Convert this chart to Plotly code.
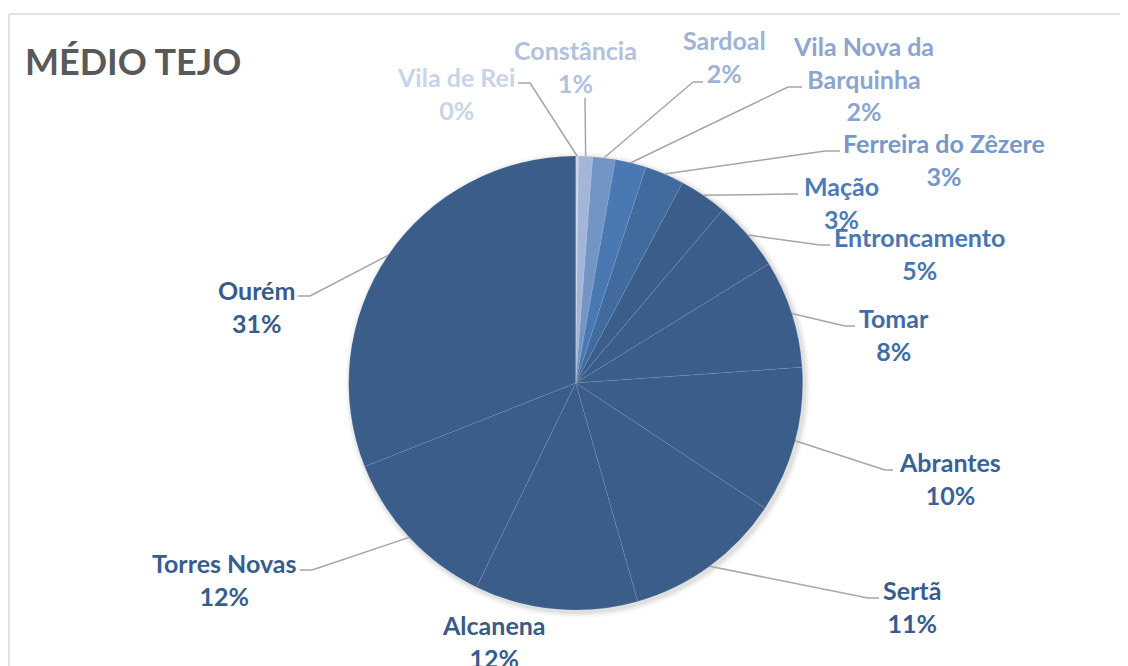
import math
import plotly.graph_objects as go

# data: share per municipality, clockwise from 12 o'clock
municipios = ["Vila de Rei", "Constância", "Sardoal", "Vila Nova da Barquinha",
              "Ferreira do Zêzere", "Mação", "Entroncamento", "Tomar", "Abrantes",
              "Sertã", "Alcanena", "Torres Novas", "Ourém"]
valores = [0.2, 1.0, 1.6, 2.2, 2.8, 3.4, 5.0, 7.7, 10.4, 11.3, 11.6, 11.8, 31.0]

slice_colors = ["#c9d5e9", "#a3b6d8", "#7395c6", "#4978b3", "#416b9f", "#3a5d89",
                "#3a5d89", "#3a5d89", "#3a5d89", "#3a5d89", "#3a5d89", "#3a5d89", "#3a5d89"]
label_colors = ["#c8d4e8", "#b0c2de", "#9db3d8", "#8ba5d0", "#7597c9", "#4a7bbb",
                "#4676b3", "#3f6ca8", "#3a6299", "#375d90", "#375b8a", "#375d90", "#375b8a"]

W, H = 1128, 666
OFF = 8  # page body margin shifts the figure by 8px
CX, CY, R = 575.7, 383, 227

# label placement (screen pixels): text centre, elbow and end of leader line
label_layout = {
    "Vila de Rei": dict(text=(456, 93.5), elbow=(530, 83), end=(518, 83)),
    "Constância": dict(text=(575, 66.5), elbow=(585, 98), end=(585, 98)),
    "Sardoal": dict(text=(724, 56), elbow=(693, 82), end=(703, 82)),
    "Vila Nova da Barquinha": dict(text=(863, 78.5), elbow=(788, 87), end=(802, 87)),
    "Ferreira do Zêzere": dict(text=(944, 160), elbow=(825, 151), end=(840, 151)),
    "Mação": dict(text=(841, 202.5), elbow=(790, 194), end=(798, 194)),
    "Entroncamento": dict(text=(920, 253.5), elbow=(820, 245), end=(830, 245)),
    "Tomar": dict(text=(894, 334), elbow=(845, 326), end=(855, 326)),
    "Abrantes": dict(text=(950, 478), elbow=(885, 470), end=(893, 470)),
    "Sertã": dict(text=(912, 606), elbow=(868, 598), end=(879, 598)),
    "Alcanena": dict(text=(494, 641), elbow=None, end=None),
    "Torres Novas": dict(text=(224, 579), elbow=(312, 570), end=(300, 570)),
    "Ourém": dict(text=(256, 306), elbow=(310, 296), end=(298, 296)),
}
wrapped = {"Vila Nova da Barquinha": "Vila Nova da<br>Barquinha"}


def px(x):
    return (x - OFF) / W


def py(y):
    return 1 - (y - OFF) / H


fig = go.Figure(go.Pie(
    labels=municipios,
    values=valores,
    sort=False,
    direction="clockwise",
    rotation=0,
    textinfo="none",
    hoverinfo="label+percent",
    marker=dict(colors=slice_colors, line=dict(color="rgba(255,255,255,0.15)", width=0.6)),
    domain=dict(x=[px(CX - R), px(CX + R)], y=[py(CY + R), py(CY - R)]),
    showlegend=False,
))

shapes = []
# soft shadow behind the pie
for k, a in [(6, 0.025), (4, 0.04), (2, 0.06)]:
    shapes.append(dict(type="circle", xref="paper", yref="paper", layer="below",
                       x0=px(CX - R - k + 2), x1=px(CX + R + k + 2),
                       y0=py(CY + R + k + 2), y1=py(CY - R - k + 2),
                       fillcolor=f"rgba(0,0,0,{a})", line=dict(width=0)))

# chart frame (top and left edge visible)
frame = dict(color="#d9d9d9", width=1.5)
shapes.append(dict(type="line", xref="paper", yref="paper", x0=px(9), x1=1.0, y0=py(14), y1=py(14), line=frame))
shapes.append(dict(type="line", xref="paper", yref="paper", x0=px(9), x1=px(9), y0=py(14), y1=0.0, line=frame))

annotations = []
total = sum(valores)
cum = 0.0
for name, v, col in zip(municipios, valores, label_colors):
    mid = (cum + v / 2) / total * 2 * math.pi
    cum += v
    ex = CX + R * math.sin(mid)
    ey = CY - R * math.cos(mid)
    lay = label_layout[name]
    if lay["elbow"] is not None:
        lc = dict(color="#a6a6a6", width=1.5)
        bx, by = lay["elbow"]
        qx, qy = lay["end"]
        shapes.append(dict(type="line", xref="paper", yref="paper",
                           x0=px(ex), y0=py(ey), x1=px(bx), y1=py(by), line=lc))
        shapes.append(dict(type="line", xref="paper", yref="paper",
                           x0=px(bx), y0=py(by), x1=px(qx), y1=py(qy), line=lc))
    tx, ty = lay["text"]
    pct = round(v / total * 100)
    annotations.append(dict(
        x=px(tx), y=py(ty), xref="paper", yref="paper",
        text=f"{wrapped.get(name, name)}<br>{pct}%",
        showarrow=False, xanchor="center", yanchor="middle", align="center",
        font=dict(family="Lato", size=25, color=col, weight="bold"),
    ))

annotations.append(dict(
    x=px(23), y=py(61.5), xref="paper", yref="paper", text="MÉDIO TEJO",
    showarrow=False, xanchor="left", yanchor="middle",
    font=dict(family="Lato", size=36, color="#595959", weight="bold"),
))

fig.update_layout(
    width=W, height=H,
    margin=dict(l=0, r=0, t=0, b=0),
    paper_bgcolor="white",
    plot_bgcolor="white",
    shapes=shapes,
    annotations=annotations,
)

fig.write_html("out.html")
